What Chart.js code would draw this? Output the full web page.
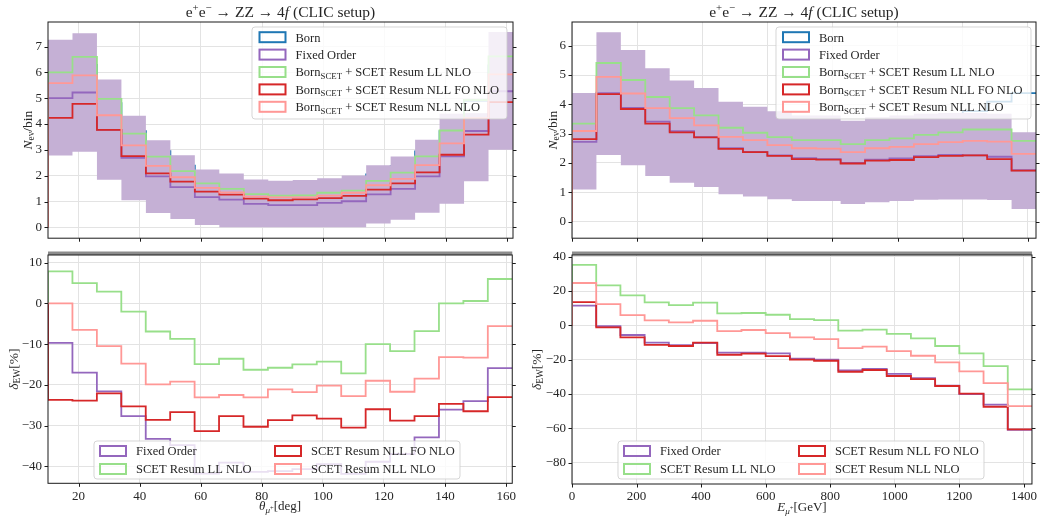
<!DOCTYPE html>
<html>
<head>
<meta charset="utf-8">
<script src="https://cdn.jsdelivr.net/npm/chart.js@4.4.1/dist/chart.umd.min.js"></script>
<style>
  body { margin: 0; background: #fff; width: 1042px; height: 520px; position: relative; overflow: hidden; }
  canvas { position: absolute; }
</style>
</head>
<body>
<canvas id="tl" width="521" height="252" style="left:0;top:0"></canvas>
<canvas id="bl" width="521" height="284" style="left:0;top:236px"></canvas>
<canvas id="tr" width="521" height="252" style="left:521px;top:0"></canvas>
<canvas id="br" width="521" height="284" style="left:521px;top:236px"></canvas>
<script>
// ── binning and tick values ────────────────────────────────────────────────
const thetaEdges = [10, 18, 26, 34, 42, 50, 58, 66, 74, 82, 90, 98, 106, 114, 122, 130, 138, 146, 154, 162];
const energyEdges = [0, 75, 150, 225, 300, 375, 450, 525, 600, 675, 750, 825, 900, 975, 1050, 1125, 1200, 1275, 1350, 1425];
const thetaTicks = [20, 40, 60, 80, 100, 120, 140, 160];
const energyTicks = [0, 200, 400, 600, 800, 1000, 1200, 1400];
const thetaCountTicks = [0, 1, 2, 3, 4, 5, 6, 7];
const energyCountTicks = [0, 1, 2, 3, 4, 5, 6];
const thetaDeltaTicks = [-40, -30, -20, -10, 0, 10];
const energyDeltaTicks = [-80, -60, -40, -20, 0, 20, 40];

// ── theta distribution: events per bin ─────────────────────────────────────
const thetaBorn    = [5.54, 6.29, 4.81, 3.72, 2.95, 2.39, 2.02, 1.76, 1.55, 1.46, 1.45, 1.57, 1.74, 2.05, 2.37, 2.94, 3.72, 4.91, 6.27];
const thetaFO      = [5.00, 5.22, 3.77, 2.69, 1.97, 1.56, 1.17, 1.07, 0.91, 0.86, 0.86, 0.95, 1.01, 1.28, 1.49, 1.97, 2.75, 3.73, 5.27];
const thetaLL      = [6.00, 6.60, 4.97, 3.63, 2.74, 2.18, 1.70, 1.49, 1.29, 1.23, 1.24, 1.34, 1.42, 1.80, 2.12, 2.75, 3.75, 4.93, 6.62];
const thetaNLLFO   = [4.24, 4.78, 3.77, 2.76, 2.09, 1.77, 1.38, 1.27, 1.11, 1.05, 1.08, 1.13, 1.22, 1.46, 1.70, 2.13, 2.81, 3.59, 4.85];
const thetaNLL     = [5.58, 5.88, 4.34, 3.17, 2.38, 1.94, 1.53, 1.35, 1.19, 1.16, 1.16, 1.23, 1.34, 1.63, 1.88, 2.41, 3.25, 4.23, 5.92];
const thetaBandLo  = [2.78, 2.93, 1.84, 1.05, 0.56, 0.32, 0.09, 0.00, 0.00, 0.00, 0.00, 0.00, 0.00, 0.15, 0.29, 0.57, 0.91, 1.78, 3.00];
const thetaBandHi  = [7.26, 7.51, 5.72, 4.32, 3.37, 2.79, 2.24, 2.08, 1.85, 1.80, 1.83, 1.90, 2.01, 2.40, 2.74, 3.39, 4.40, 4.42, 7.56];

// ── theta distribution: relative EW corrections [%] ────────────────────────
const thetaDeltaFO    = [-9.7, -17.0, -21.6, -27.7, -33.3, -34.8, -41.8, -39.1, -41.4, -41.2, -40.7, -39.5, -41.9, -38.9, -37.0, -32.9, -26.1, -24.0, -15.9];
const thetaDeltaLL    = [7.9, 5.0, 2.9, -2.0, -6.9, -8.7, -14.9, -13.6, -16.3, -15.8, -15.0, -14.3, -17.2, -10.0, -11.7, -6.8, 0.0, 0.6, 6.0];
const thetaDeltaNLLFO = [-23.7, -23.9, -22.1, -25.3, -28.6, -26.7, -31.4, -27.7, -30.3, -28.7, -27.5, -28.3, -30.5, -26.0, -28.8, -27.7, -24.7, -26.5, -23.0];
const thetaDeltaNLL   = [0.0, -6.5, -10.5, -14.8, -19.9, -19.2, -23.1, -22.5, -23.1, -21.1, -21.8, -20.2, -22.8, -19.0, -21.7, -18.5, -13.2, -13.3, -5.6];

// ── energy distribution: events per bin ────────────────────────────────────
const energyBorn   = [2.45, 4.40, 4.11, 3.79, 3.48, 3.21, 2.97, 2.83, 2.70, 2.68, 2.66, 2.71, 2.83, 2.99, 3.22, 3.50, 3.77, 4.09, 4.38];
const energyFO     = [2.72, 4.38, 3.88, 3.41, 3.08, 2.88, 2.50, 2.38, 2.26, 2.16, 2.13, 2.00, 2.11, 2.15, 2.23, 2.27, 2.26, 2.21, 1.75];
const energyLL     = [3.34, 5.41, 4.83, 4.25, 3.87, 3.62, 3.20, 3.03, 2.88, 2.78, 2.78, 2.64, 2.78, 2.84, 2.96, 3.04, 3.14, 3.14, 2.75];
const energyNLLFO  = [2.81, 4.35, 3.84, 3.34, 3.04, 2.87, 2.48, 2.37, 2.24, 2.13, 2.11, 1.98, 2.08, 2.10, 2.20, 2.24, 2.26, 2.13, 1.74];
const energyNLL    = [3.09, 4.94, 4.37, 3.87, 3.53, 3.28, 2.89, 2.78, 2.61, 2.50, 2.49, 2.37, 2.50, 2.55, 2.64, 2.71, 2.75, 2.73, 2.31];
const energyBandLo = [1.09, 2.27, 1.92, 1.55, 1.32, 1.18, 0.93, 0.85, 0.76, 0.70, 0.70, 0.60, 0.66, 0.70, 0.74, 0.75, 0.75, 0.73, 0.43];
const energyBandHi = [4.39, 6.46, 5.85, 5.23, 4.81, 4.56, 4.09, 3.92, 3.76, 3.62, 3.62, 3.44, 3.56, 3.62, 3.68, 3.70, 3.70, 3.68, 3.05];

// ── energy distribution: relative EW corrections [%] ───────────────────────
const energyDeltaFO    = [11.5, -0.4, -5.6, -10.1, -11.5, -10.3, -15.9, -15.9, -16.3, -19.4, -20.0, -26.2, -25.4, -28.2, -30.7, -35.1, -40.0, -46.2, -60.8];
const energyDeltaLL    = [35.3, 23.3, 17.5, 13.4, 11.8, 13.2, 7.0, 7.2, 6.2, 3.7, 3.1, -3.1, -2.5, -4.9, -7.6, -12.0, -16.3, -23.7, -37.3];
const energyDeltaNLLFO = [13.6, -1.2, -7.0, -11.3, -12.0, -10.1, -17.1, -16.5, -17.9, -20.0, -20.6, -27.0, -26.0, -29.5, -31.3, -35.3, -39.8, -47.4, -60.6];
const energyDeltaNLL   = [24.7, 12.4, 6.0, 2.9, 1.7, 2.7, -3.3, -2.7, -4.5, -7.0, -8.0, -13.2, -12.4, -15.0, -17.7, -21.6, -26.8, -33.6, -47.0];

// ── styling ────────────────────────────────────────────────────────────────
const C_BORN = '#1f77b4', C_FO = '#9467bd', C_LL = '#98df8a', C_NLLFO = '#d62728', C_NLL = '#ff9896';
const C_BAND = '#c5b0d5';
const FAMILY = "'Liberation Serif', 'DejaVu Serif', serif";
const INK = '#262626';
const LW = 1.8;

// text pieces: i = italic, sub / sup = script, ss = script on a script
const TITLE = [{t: 'e'}, {t: '+', sup: true}, {t: 'e'}, {t: '−', sup: true}, {t: ' → ZZ → 4'}, {t: 'f', i: true}, {t: ' (CLIC setup)'}];
const scetLabel = rest => [{t: 'Born'}, {t: 'SCET', sub: true}, {t: ' + SCET Resum ' + rest}];
const LBL_NEV = [{t: 'N', i: true}, {t: 'ev', sub: true}, {t: '/bin'}];
const LBL_DEW = [{t: 'δ', i: true}, {t: 'EW', sub: true}, {t: '[%]'}];
const LBL_THETA = [{t: 'θ', i: true}, {t: 'μ', sub: true, i: true}, {t: '+', ss: true}, {t: '[deg]'}];
const LBL_ENERGY = [{t: 'E', i: true}, {t: 'μ', sub: true, i: true}, {t: '+', ss: true}, {t: '[GeV]'}];

function steps(edges, vals, fromZero) {
  const pts = fromZero ? [{x: edges[0], y: 0}] : [];
  vals.forEach((v, i) => { pts.push({x: edges[i], y: v}, {x: edges[i + 1], y: v}); });
  return pts;
}

function line(edges, vals, color) {
  return { data: steps(edges, vals, true), borderColor: color, borderWidth: LW, pointRadius: 0, fill: false, tension: 0 };
}

function band(edges, lo, hi) {
  const hidden = 'rgba(0,0,0,0)';
  return [
    { data: steps(edges, hi), borderColor: hidden, borderWidth: 1, pointRadius: 0, fill: '+1', backgroundColor: C_BAND },
    { data: steps(edges, lo), borderColor: hidden, borderWidth: 1, pointRadius: 0, fill: false }
  ];
}

function fontSpec(p, size) {
  const k = p.ss ? 0.5 : (p.sub || p.sup) ? 0.7 : 1;
  const dy = p.ss ? -0.05 : p.sub ? 0.22 : p.sup ? -0.36 : 0;
  return { font: (p.i ? 'italic ' : '') + (size * k).toFixed(1) + 'px ' + FAMILY, dy: dy * size };
}

// draws mixed roman / italic / script text with its baseline at y
function drawRich(ctx, parts, x, y, size, align) {
  let w = 0;
  parts.forEach(p => { ctx.font = fontSpec(p, size).font; w += ctx.measureText(p.t).width; });
  let cx = align === 'center' ? x - w / 2 : x;
  ctx.textAlign = 'left';
  ctx.textBaseline = 'alphabetic';
  ctx.fillStyle = INK;
  parts.forEach(p => {
    const s = fontSpec(p, size);
    ctx.font = s.font;
    ctx.fillText(p.t, cx, y + s.dy);
    cx += ctx.measureText(p.t).width;
  });
}

function drawLegend(ctx, L) {
  ctx.save();
  ctx.beginPath();
  ctx.roundRect(L.x, L.y, L.w, L.h, 3);
  ctx.fillStyle = 'rgba(255,255,255,0.8)';
  ctx.fill();
  ctx.strokeStyle = 'rgba(204,204,204,0.8)';
  ctx.lineWidth = 1;
  ctx.stroke();
  L.items.forEach(it => {
    ctx.strokeStyle = it.color;
    ctx.lineWidth = 2;
    ctx.strokeRect(it.px, it.y - 5, 26, 10);
    drawRich(ctx, it.label, it.px + 36, it.y + 4.3, 12.5, 'left');
  });
  ctx.restore();
}

// frame, outward ticks, axis titles and legend
const deco = {
  id: 'deco',
  afterDatasetsDraw(chart, args, o) {
    const { ctx, chartArea: a, scales } = chart;
    ctx.save();
    if (o.gap) {
      ctx.fillStyle = '#8c8c8c';
      ctx.fillRect(a.left, a.top - 3.5, a.right - a.left, 3.5);
    }
    ctx.strokeStyle = '#1a1a1a';
    ctx.lineWidth = 1;
    ctx.strokeRect(a.left, a.top, a.right - a.left, a.bottom - a.top);
    ctx.beginPath();
    scales.y.ticks.forEach(t => {
      const py = Math.round(scales.y.getPixelForValue(t.value)) + 0.5;
      ctx.moveTo(a.left - 3.5, py); ctx.lineTo(a.left, py);
      ctx.moveTo(a.right, py); ctx.lineTo(a.right + 3.5, py);
    });
    scales.x.ticks.forEach(t => {
      const px = Math.round(scales.x.getPixelForValue(t.value)) + 0.5;
      ctx.moveTo(px, a.bottom); ctx.lineTo(px, a.bottom + 3.5);
    });
    ctx.stroke();
    if (o.legend) drawLegend(ctx, o.legend);
    const cx = (a.left + a.right) / 2;
    if (o.title) drawRich(ctx, o.title, cx, 16.5, 15.5, 'center');
    if (o.xLabel) drawRich(ctx, o.xLabel, cx, a.bottom + 27, 13, 'center');
    if (o.yLabel) {
      ctx.translate(a.left - o.yLabelOff, (a.top + a.bottom) / 2);
      ctx.rotate(-Math.PI / 2);
      drawRich(ctx, o.yLabel, 0, 4.5, 13.5, 'center');
    }
    ctx.restore();
  }
};
Chart.register(deco);

const fixedTicks = values => s => { s.ticks = values.map(v => ({ value: v })); };
const tickText = v => String(v).replace('-', '−');

function makePanel(id, p) {
  const tickFont = { family: FAMILY, size: 13 };
  return new Chart(document.getElementById(id), {
    type: 'line',
    data: { datasets: p.datasets },
    options: {
      responsive: false,
      animation: false,
      layout: { padding: { top: p.padTop, right: p.padRight, left: 0, bottom: 0 } },
      plugins: { legend: { display: false }, tooltip: { enabled: false }, deco: p.deco },
      scales: {
        x: {
          type: 'linear', min: p.xMin, max: p.xMax,
          grid: { color: '#e3e3e3', lineWidth: 1, drawTicks: false },
          border: { display: false },
          ticks: { display: p.xLabels, padding: 5, color: INK, font: tickFont, maxRotation: 0, autoSkip: false, callback: tickText },
          afterBuildTicks: fixedTicks(p.xTicks),
          afterFit: s => { s.height = p.xHeight; }
        },
        y: {
          type: 'linear', min: p.yMin, max: p.yMax,
          grid: { color: '#e3e3e3', lineWidth: 1, drawTicks: false },
          border: { display: false },
          ticks: { padding: 6, color: INK, font: tickFont, autoSkip: false, callback: tickText },
          afterBuildTicks: fixedTicks(p.yTicks),
          afterFit: s => { s.width = p.yWidth; }
        }
      }
    }
  });
}

function topLegend(x, px) {
  const rows = [
    { color: C_BORN, label: [{t: 'Born'}] },
    { color: C_FO, label: [{t: 'Fixed Order'}] },
    { color: C_LL, label: scetLabel('LL NLO') },
    { color: C_NLLFO, label: scetLabel('NLL FO NLO') },
    { color: C_NLL, label: scetLabel('NLL NLO') }
  ];
  return { x: x, y: 27, w: 255, h: 92, items: rows.map((r, i) => ({ ...r, px: px, y: 37.2 + i * 17.4 })) };
}

function bottomLegend(x, px1, px2) {
  return { x: x, y: 205, w: 366, h: 38, items: [
    { color: C_FO, label: [{t: 'Fixed Order'}], px: px1, y: 215 },
    { color: C_LL, label: [{t: 'SCET Resum LL NLO'}], px: px1, y: 233 },
    { color: C_NLLFO, label: [{t: 'SCET Resum NLL FO NLO'}], px: px2, y: 215 },
    { color: C_NLL, label: [{t: 'SCET Resum NLL NLO'}], px: px2, y: 233 }
  ]};
}

// θ distribution
makePanel('tl', {
  datasets: [
    line(thetaEdges, thetaNLL, C_NLL),
    line(thetaEdges, thetaNLLFO, C_NLLFO),
    line(thetaEdges, thetaLL, C_LL),
    line(thetaEdges, thetaFO, C_FO),
    ...band(thetaEdges, thetaBandLo, thetaBandHi),
    line(thetaEdges, thetaBorn, C_BORN)
  ],
  xMin: 10, xMax: 162, xTicks: thetaTicks, xLabels: false, xHeight: 1,
  yMin: -0.42, yMax: 7.95, yTicks: thetaCountTicks, yWidth: 48, padTop: 22, padRight: 8,
  deco: { title: TITLE, yLabel: LBL_NEV, yLabelOff: 21, legend: topLegend(252, 259.5) }
});

makePanel('bl', {
  datasets: [
    line(thetaEdges, thetaDeltaNLL, C_NLL),
    line(thetaEdges, thetaDeltaNLLFO, C_NLLFO),
    line(thetaEdges, thetaDeltaLL, C_LL),
    line(thetaEdges, thetaDeltaFO, C_FO)
  ],
  xMin: 10, xMax: 162, xTicks: thetaTicks, xLabels: true, xHeight: 36.7,
  yMin: -44.2, yMax: 11.9, yTicks: thetaDeltaTicks, yWidth: 48, padTop: 19, padRight: 8,
  deco: { gap: true, xLabel: LBL_THETA, yLabel: LBL_DEW, yLabelOff: 35, legend: bottomLegend(94, 100, 275) }
});

// E distribution
makePanel('tr', {
  datasets: [
    line(energyEdges, energyNLL, C_NLL),
    line(energyEdges, energyNLLFO, C_NLLFO),
    line(energyEdges, energyLL, C_LL),
    line(energyEdges, energyFO, C_FO),
    ...band(energyEdges, energyBandLo, energyBandHi),
    line(energyEdges, energyBorn, C_BORN)
  ],
  xMin: 0, xMax: 1425, xTicks: energyTicks, xLabels: false, xHeight: 0.5,
  yMin: -0.57, yMax: 6.81, yTicks: energyCountTicks, yWidth: 51, padTop: 22, padRight: 6,
  deco: { title: TITLE, yLabel: LBL_NEV, yLabelOff: 20, legend: topLegend(255, 262) }
});

makePanel('br', {
  datasets: [
    line(energyEdges, energyDeltaNLL, C_NLL),
    line(energyEdges, energyDeltaNLLFO, C_NLLFO),
    line(energyEdges, energyDeltaLL, C_LL),
    line(energyEdges, energyDeltaFO, C_FO)
  ],
  xMin: 0, xMax: 1425, xTicks: energyTicks, xLabels: true, xHeight: 36,
  yMin: -92.4, yMax: 41, yTicks: energyDeltaTicks, yWidth: 51, padTop: 19, padRight: 6,
  deco: { gap: true, xLabel: LBL_ENERGY, yLabel: LBL_DEW, yLabelOff: 36, legend: bottomLegend(97, 103, 278) }
});
</script>
</body>
</html>
